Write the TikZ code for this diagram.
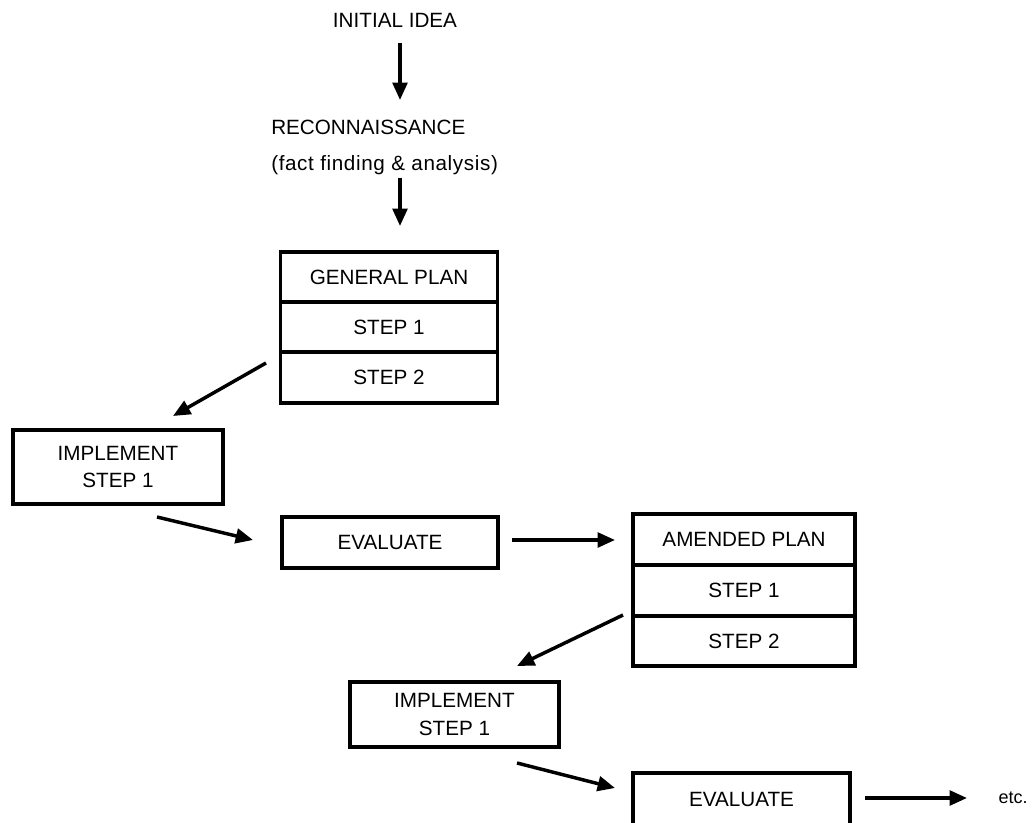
\documentclass[tikz,border=0pt]{standalone}
\usepackage{fontspec}
\setmainfont{Liberation Sans}
\usetikzlibrary{arrows.meta}
\begin{document}
\begin{tikzpicture}[x=0.75pt,y=-0.75pt,
  txt/.style={font=\fontsize{15.5}{20.5}\selectfont, text=black, inner sep=0pt, align=center},
  cellbox/.style={txt, draw, line width=2.7pt},
  arr/.style={line width=2.6pt, -{Triangle[length=13pt,width=11pt]}}
]
\useasboundingbox (0,0) rectangle (1035,823);

% opening stages
\node[txt] (idea) at (395,20) {INITIAL IDEA};
\node[txt, anchor=west, align=left, font=\fontsize{15.5}{27}\selectfont] (recon) at (271,147)
  {RECONNAISSANCE\\{\addfontfeature{LetterSpace=3}(fact finding \& analysis)}};

% general plan table
\node[cellbox, minimum width=162.75pt, minimum height=37.5pt]  (gp1) at (389,277)   {GENERAL PLAN};
\node[cellbox, minimum width=162.75pt, minimum height=37.5pt]  (gp2) at (389,327)   {STEP 1};
\node[cellbox, minimum width=162.75pt, minimum height=38.25pt] (gp3) at (389,377.5) {STEP 2};

% first cycle
\node[cellbox, minimum width=157.5pt, minimum height=55.5pt] (impl1) at (118,467)   {IMPLEMENT\\STEP 1};
\node[cellbox, minimum width=162pt,   minimum height=38.25pt] (eval1) at (390,542.5) {EVALUATE};

% amended plan table
\node[cellbox, minimum width=166.5pt, minimum height=38.25pt] (am1) at (744,539.5) {AMENDED PLAN};
\node[cellbox, minimum width=166.5pt, minimum height=38.25pt] (am2) at (744,590.5) {STEP 1};
\node[cellbox, minimum width=166.5pt, minimum height=37.5pt]  (am3) at (744,641)   {STEP 2};

% second cycle
\node[cellbox, minimum width=156.75pt, minimum height=48.75pt] (impl2) at (454.5,714.5) {IMPLEMENT\\STEP 1};
\node[cellbox, minimum width=162.75pt, minimum height=40.5pt]  (eval2) at (741.5,800)   {\raisebox{1.5pt}{EVALUATE}};
\node[txt, font=\fontsize{13.5}{16}\selectfont] (etc) at (1013,798) {etc.};

% arrow end points
\coordinate (a1s) at (400,43);   \coordinate (a1e) at (400,100);
\coordinate (a2s) at (400,178);  \coordinate (a2e) at (400,226);
\coordinate (a3s) at (266,363);  \coordinate (a3e) at (173,416);
\coordinate (a4s) at (157,517);  \coordinate (a4e) at (253,540);
\coordinate (a5s) at (512,540);  \coordinate (a5e) at (615,540);
\coordinate (a6s) at (623,615);  \coordinate (a6e) at (517,666);
\coordinate (a7s) at (517,763);  \coordinate (a7e) at (615,788);
\coordinate (a8s) at (865,798);  \coordinate (a8e) at (967,798);

\draw[arr] (a1s) -- (a1e);
\draw[arr] (a2s) -- (a2e);
\draw[arr] (a3s) -- (a3e);
\draw[arr] (a4s) -- (a4e);
\draw[arr] (a5s) -- (a5e);
\draw[arr] (a6s) -- (a6e);
\draw[arr] (a7s) -- (a7e);
\draw[arr] (a8s) -- (a8e);
\end{tikzpicture}
\end{document}
